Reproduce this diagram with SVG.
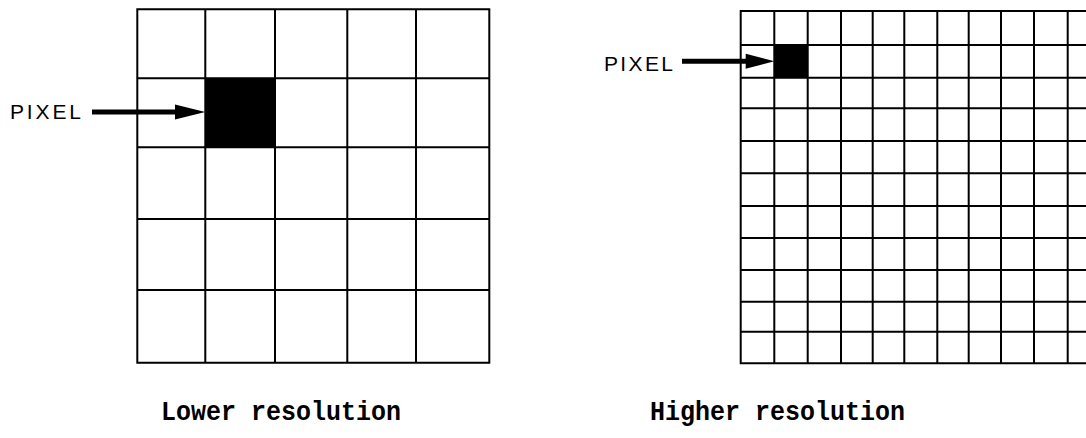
<svg xmlns="http://www.w3.org/2000/svg" width="1086" height="438" viewBox="0 0 1086 438">
  <style>
    .grid { fill: none; stroke: #000; stroke-width: 2; stroke-linecap: square; }
    .cell { fill: #000; }
    .lbl { font-family: "Liberation Sans", Arial, sans-serif; font-size: 21px; fill: #000; }
    .cap { font-family: "Liberation Mono", "Courier New", monospace; font-size: 25px; font-weight: bold; fill: #000; }
    .shaft { stroke: #000; stroke-width: 5; fill: none; }
    .head { fill: #000; }
  </style>
  <rect width="1086" height="438" fill="#fff"/>

  <!-- 5 x 5 grid -->
  <g id="grid-low">
    <rect class="cell" x="205.3" y="78.3" width="69.7" height="69"/>
    <path class="grid" d="M137.3 9.3V362.7M205.3 9.3V362.7M275 9.3V362.7M347.3 9.3V362.7M416 9.3V362.7M489.3 9.3V362.7
                          M137.3 9.3H489.3M137.3 78.3H489.3M137.3 147.3H489.3M137.3 219H489.3M137.3 290H489.3M137.3 362.7H489.3"/>
  </g>

  <!-- 11-row fine grid, running off the right edge -->
  <g id="grid-high">
    <rect class="cell" x="774.3" y="45" width="33.4" height="32.7"/>
    <path class="grid" d="M740.7 11V363.3M774.3 11V363.3M807.7 11V363.3M841 11V363.3M872.7 11V363.3M904.3 11V363.3M937.3 11V363.3M968.7 11V363.3M1001 11V363.3M1034 11V363.3M1067.7 11V363.3M1100.5 11V363.3
                          M740.7 11H1090M740.7 45H1090M740.7 77.7H1090M740.7 108.3H1090M740.7 141H1090M740.7 173.3H1090M740.7 206H1090M740.7 238H1090M740.7 270H1090M740.7 301.7H1090M740.7 331.7H1090M740.7 363.3H1090"/>
  </g>

  <g id="label-pixel-low">
    <text class="lbl" x="10" y="119" textLength="71" lengthAdjust="spacing">PIXEL</text>
  </g>
  <g id="label-pixel-high">
    <text class="lbl" x="604" y="70.7" textLength="69" lengthAdjust="spacing">PIXEL</text>
  </g>

  <g id="caption-low">
    <text class="cap" x="161" y="420" transform="translate(0 -42) scale(1 1.1)">Lower resolution</text>
  </g>
  <g id="caption-high">
    <text class="cap" x="650" y="420" transform="translate(0 -42) scale(1 1.1)">Higher resolution</text>
  </g>

  <g id="connectors">
    <line class="shaft" x1="92" y1="112" x2="178" y2="112"/>
    <polygon class="head" points="175,104.5 205.3,112 175,119.5"/>
    <line class="shaft" x1="682" y1="61.3" x2="748" y2="61.3"/>
    <polygon class="head" points="745.7,53.8 774.3,61.3 745.7,68.8"/>
  </g>
</svg>
